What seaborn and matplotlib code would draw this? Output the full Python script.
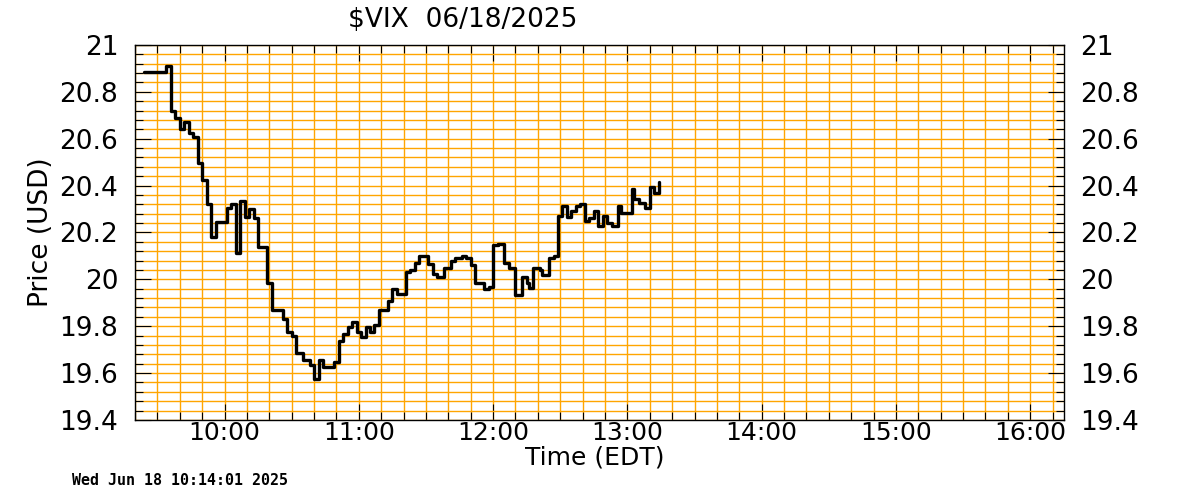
import pandas as pd
import seaborn as sns
import matplotlib
matplotlib.use("Agg")
import matplotlib.pyplot as plt
import matplotlib.dates as mdates
from matplotlib.ticker import MultipleLocator, FuncFormatter

# Intraday $VIX prints (time of change, price)
day = "2025-06-18"
times = [
    "09:24", "09:34", "09:36", "09:38", "09:40", "09:42", "09:44", "09:46",
    "09:48", "09:50", "09:52", "09:54", "09:56", "10:01", "10:03", "10:05",
    "10:07", "10:09", "10:11", "10:13", "10:15", "10:19", "10:21", "10:26",
    "10:28", "10:30", "10:32", "10:35", "10:38", "10:40", "10:42", "10:44",
    "10:49", "10:51", "10:53", "10:55", "10:57", "10:59", "11:01", "11:03",
    "11:05", "11:07", "11:09", "11:13", "11:15", "11:17", "11:21", "11:23",
    "11:25", "11:27", "11:31", "11:33", "11:35", "11:38", "11:41", "11:43",
    "11:46", "11:48", "11:50", "11:52", "11:56", "11:58", "12:00", "12:02",
    "12:05", "12:07", "12:10", "12:13", "12:15", "12:16", "12:18", "12:21",
    "12:22", "12:25", "12:27", "12:29", "12:31", "12:33", "12:35", "12:37",
    "12:39", "12:41", "12:43", "12:45", "12:47", "12:49", "12:51", "12:53",
    "12:56", "12:57", "13:02", "13:03", "13:05", "13:08", "13:10", "13:12",
    "13:14",
]
prices = [
    20.886, 20.910, 20.718, 20.690, 20.640, 20.670, 20.623, 20.606,
    20.495, 20.424, 20.320, 20.180, 20.243, 20.306, 20.320, 20.111,
    20.334, 20.268, 20.300, 20.260, 20.140, 19.986, 19.869, 19.830,
    19.777, 19.759, 19.685, 19.656, 19.635, 19.574, 19.656, 19.628,
    19.646, 19.737, 19.767, 19.798, 19.820, 19.777, 19.756, 19.796,
    19.774, 19.805, 19.869, 19.908, 19.958, 19.936, 20.033, 20.040,
    20.069, 20.100, 20.066, 20.022, 20.009, 20.047, 20.080, 20.090,
    20.100, 20.091, 20.061, 19.983, 19.958, 19.969, 20.145, 20.151,
    20.069, 20.047, 19.935, 20.012, 19.985, 19.965, 20.047, 20.038,
    20.017, 20.090, 20.100, 20.270, 20.313, 20.268, 20.293, 20.313,
    20.322, 20.249, 20.261, 20.292, 20.228, 20.270, 20.239, 20.229,
    20.314, 20.282, 20.387, 20.342, 20.325, 20.303, 20.395, 20.370,
    20.417,
]

df = pd.DataFrame({"time": pd.to_datetime([f"{day} {t}" for t in times]),
                   "price": prices})

sns.set_style("white")
plt.rcParams["font.family"] = ["DejaVu Sans"]
plt.rcParams["text.color"] = "black"
plt.rcParams["xtick.color"] = "black"
plt.rcParams["ytick.color"] = "black"

fig = plt.figure(figsize=(12, 5), dpi=100)
ax = fig.add_axes([0.1125, 0.16, 0.774, 0.75])

# grid first so the price line sits on top
ax.set_axisbelow(True)
ax.grid(True, which="both", color="#FFA500", linewidth=1.0)

sns.lineplot(data=df, x="time", y="price", ax=ax, color="black",
             linewidth=2.4, drawstyle="steps-post", sort=False)

ax.set_xlim(pd.Timestamp(f"{day} 09:20"), pd.Timestamp(f"{day} 16:15"))
ax.set_ylim(19.4, 21.0)

ax.xaxis.set_major_locator(mdates.HourLocator())
ax.xaxis.set_minor_locator(mdates.MinuteLocator(byminute=range(0, 60, 10)))
ax.xaxis.set_major_formatter(mdates.DateFormatter("%H:%M"))
ax.yaxis.set_major_locator(MultipleLocator(0.2))
ax.yaxis.set_minor_locator(MultipleLocator(0.04))
ax.yaxis.set_major_formatter(FuncFormatter(lambda v, p: f"{v:g}"))

ax.tick_params(which="both", direction="in", top=True, right=True,
               bottom=True, left=True, color="black", width=0.8,
               labelcolor="black")
ax.tick_params(which="major", length=11.5)
ax.tick_params(which="minor", length=5.8)
ax.tick_params(axis="y", which="major", labelleft=True, labelright=True,
               labelsize=19, pad=12)
ax.tick_params(axis="x", which="major", labelsize=18, pad=1)

for s in ax.spines.values():
    s.set_color("black")
    s.set_linewidth(1.0)

ax.set_xlabel("")
ax.set_ylabel("")
fig.text(0.496, 0.072, "Time (EDT)", ha="center", va="baseline", fontsize=18)
fig.text(0.034, 0.535, "Price (USD)", ha="center", va="center",
         rotation=90, fontsize=19)
fig.text(0.29, 0.946, "$VIX  06/18/2025", ha="left", va="baseline",
         fontsize=19)
fig.text(0.06, 0.03, "Wed Jun 18 10:14:01 2025", ha="left", va="baseline",
         fontsize=10.8, family="DejaVu Sans Mono", fontweight="bold")

fig.savefig("out.png", dpi=100)
